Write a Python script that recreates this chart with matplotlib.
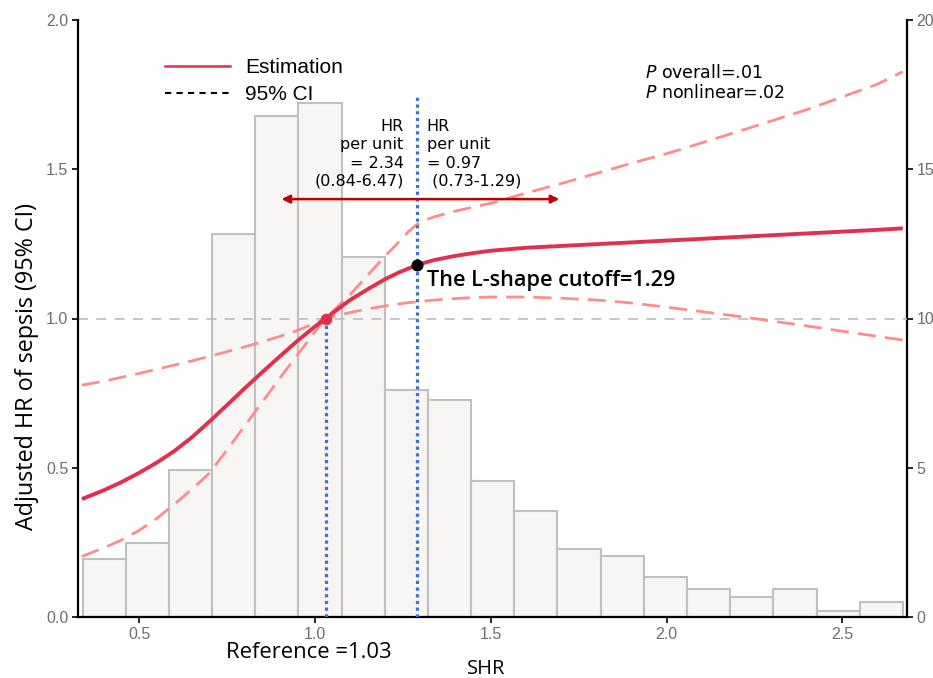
import numpy as np
import matplotlib
matplotlib.use("Agg")
import matplotlib.pyplot as plt
from matplotlib.lines import Line2D

plt.rcParams['font.family'] = ['Liberation Sans', 'DejaVu Sans']
plt.rcParams['mathtext.fontset'] = 'custom'
plt.rcParams['mathtext.it'] = 'DejaVu Sans:italic'
plt.rcParams['mathtext.rm'] = 'DejaVu Sans'

# ---------------- data ----------------
# histogram of SHR (percent, right axis)
bin_start = 0.339
bin_width = 0.1228
hist_pct = [1.94, 2.48, 4.92, 12.83, 16.78, 17.22, 12.06, 7.60, 7.27, 4.56,
            3.55, 2.29, 2.03, 1.35, 0.94, 0.675, 0.94, 0.19, 0.505]

# restricted cubic spline estimate and 95% CI
shr = [0.337, 0.4, 0.45, 0.5, 0.55, 0.6, 0.65, 0.7, 0.75, 0.8, 0.85, 0.9, 0.95,
       1.0, 1.03, 1.1, 1.15, 1.2, 1.24, 1.265, 1.29, 1.315, 1.34, 1.4, 1.45,
       1.5, 1.6, 1.7, 1.8, 1.9, 2.0, 2.2, 2.4, 2.6, 2.672]
hr_est = [0.395, 0.425, 0.452, 0.483, 0.517, 0.556, 0.602, 0.655, 0.71, 0.766,
          0.82, 0.873, 0.925, 0.973, 1.00, 1.062, 1.098, 1.132, 1.155, 1.167,
          1.178, 1.188, 1.196, 1.21, 1.219, 1.227, 1.237, 1.243, 1.249, 1.255,
          1.261, 1.273, 1.285, 1.297, 1.302]
ci_low = [0.777, 0.79, 0.803, 0.816, 0.83, 0.844, 0.858, 0.873, 0.889, 0.905,
          0.922, 0.94, 0.96, 0.984, 1.00, 1.02, 1.032, 1.042, 1.049, 1.053,
          1.056, 1.059, 1.062, 1.067, 1.07, 1.072, 1.072, 1.068, 1.062, 1.052,
          1.038, 1.008, 0.975, 0.94, 0.928]
ci_high = [0.203, 0.232, 0.258, 0.29, 0.33, 0.378, 0.428, 0.482, 0.56, 0.64,
           0.72, 0.80, 0.878, 0.955, 1.00, 1.08, 1.145, 1.21, 1.258, 1.29,
           1.315, 1.33, 1.341, 1.36, 1.373, 1.386, 1.42, 1.452, 1.486, 1.52,
           1.552, 1.625, 1.70, 1.785, 1.827]

ref_x, ref_y = 1.03, 1.00
cut_x, cut_y = 1.29, 1.178

yticks_left = [0.0, 0.5, 1.0, 1.5, 2.0]
yticks_right = [0, 5, 10, 15, 20]
xticks = [0.5, 1.0, 1.5, 2.0, 2.5]

# ---------------- figure ----------------
fig = plt.figure(figsize=(9.33, 6.78), dpi=100)
ax = fig.add_axes([78/933, 61/678, 829/933, 597/678])
ax2 = ax.twinx()
ax.set_zorder(ax2.get_zorder() + 1)
ax.patch.set_visible(False)

edges = bin_start + bin_width * np.arange(len(hist_pct) + 1)
ax2.bar(edges[:-1], hist_pct, width=bin_width, align='edge',
        color='#F7F6F5', edgecolor='#C0C0C0', linewidth=1.5)

ax.axhline(1.0, color='#BDBDBD', lw=1.2, ls=(0, (6, 5)), zorder=1)

ci_col = '#FF8C8C'
est_col = '#E0304E'
ax.plot(shr, ci_low, color=ci_col, lw=2.0, ls=(0, (6.5, 3.3)), zorder=3)
ax.plot(shr, ci_high, color=ci_col, lw=2.0, ls=(0, (6.5, 3.3)), zorder=3)
ax.plot(shr, hr_est, color=est_col, lw=2.8, zorder=4, solid_capstyle='butt',
        solid_joinstyle='round')

blue = '#3F6FD0'
ax.plot([ref_x, ref_x], [0, ref_y], color=blue, lw=2.3, ls=(0, (1, 1.1)), zorder=5)
ax.plot([cut_x, cut_x], [0, 1.75], color=blue, lw=2.3, ls=(0, (1, 1.1)), zorder=5)

ax.scatter([ref_x], [ref_y], s=70, color=est_col, zorder=6, linewidths=0)
ax.scatter([cut_x], [cut_y], s=75, color='black', zorder=6, linewidths=0)

ax.annotate('', xy=(0.905, 1.4), xytext=(1.695, 1.4),
            arrowprops=dict(arrowstyle='<|-|>', color='#C00000', lw=1.8,
                            mutation_scale=12, shrinkA=0, shrinkB=0), zorder=6)

dv = ['DejaVu Sans']
osf = ['Open Sans', 'DejaVu Sans']
ax.text(1.252, 1.668, 'HR\nper unit\n= 2.34\n(0.84-6.47)', ha='right', va='top',
        fontsize=11.5, family=dv, linespacing=1.27, zorder=7)
ax.text(1.318, 1.668, 'HR\nper unit\n= 0.97\n (0.73-1.29)', ha='left', va='top',
        fontsize=11.5, family=dv, linespacing=1.27, zorder=7)
ax.text(1.318, 1.128, 'The L-shape cutoff=1.29', ha='left', va='center',
        fontsize=15.6, family=osf, fontweight='semibold', zorder=7)

ax.text(1.939, 1.822, r'$\mathit{P}$ overall=.01', fontsize=12.5, family=dv,
        ha='left', va='center')
ax.text(1.939, 1.757, r'$\mathit{P}$ nonlinear=.02', fontsize=12.5, family=dv,
        ha='left', va='center')

handles = [Line2D([], [], color=est_col, lw=1.8),
           Line2D([], [], color='black', lw=1.5, ls=(0, (3, 2.5)))]
ax.legend(handles, ['Estimation', '95% CI'], loc='upper left',
          bbox_to_anchor=(0.105, 0.9365), frameon=False, fontsize=15,
          handlelength=3.1, handletextpad=0.75, labelspacing=0.4,
          borderpad=0, borderaxespad=0)

# axes formatting
ax.set_xlim(0.326, 2.684)
ax.set_ylim(0, 2.0)
ax2.set_ylim(0, 20)
ax.set_xticks(xticks)
ax.set_xticklabels([f'{v:.1f}' for v in xticks])
ax.set_yticks(yticks_left)
ax.set_yticklabels([f'{v:.1f}' for v in yticks_left])
ax2.set_yticks(yticks_right)
ax2.set_yticklabels([str(v) for v in yticks_right])

for a in (ax, ax2):
    a.spines['top'].set_visible(False)
    for s in ('left', 'right', 'bottom'):
        a.spines[s].set_linewidth(1.6)
        a.spines[s].set_color('black')
    a.tick_params(axis='both', colors='black', labelcolor='#6E6E6E',
                  labelsize=11.5, length=4, width=1.2, pad=3)
ax.spines['right'].set_visible(False)
ax2.spines['left'].set_visible(False)
ax2.spines['bottom'].set_visible(False)

fig.text(486/933, 4.5/678, 'SHR', fontsize=14.5, family=osf,
         ha='center', va='baseline')
fig.text(27/933, 1 - 367/678, 'Adjusted HR of sepsis (95% CI)', fontsize=16.8,
         family=osf, rotation=90, ha='center', va='center')
fig.text(308.5/933, 20.5/678, 'Reference =1.03', fontsize=15.8, family=osf,
         fontweight='medium', ha='center', va='baseline')

fig.savefig('out.png', dpi=100)
